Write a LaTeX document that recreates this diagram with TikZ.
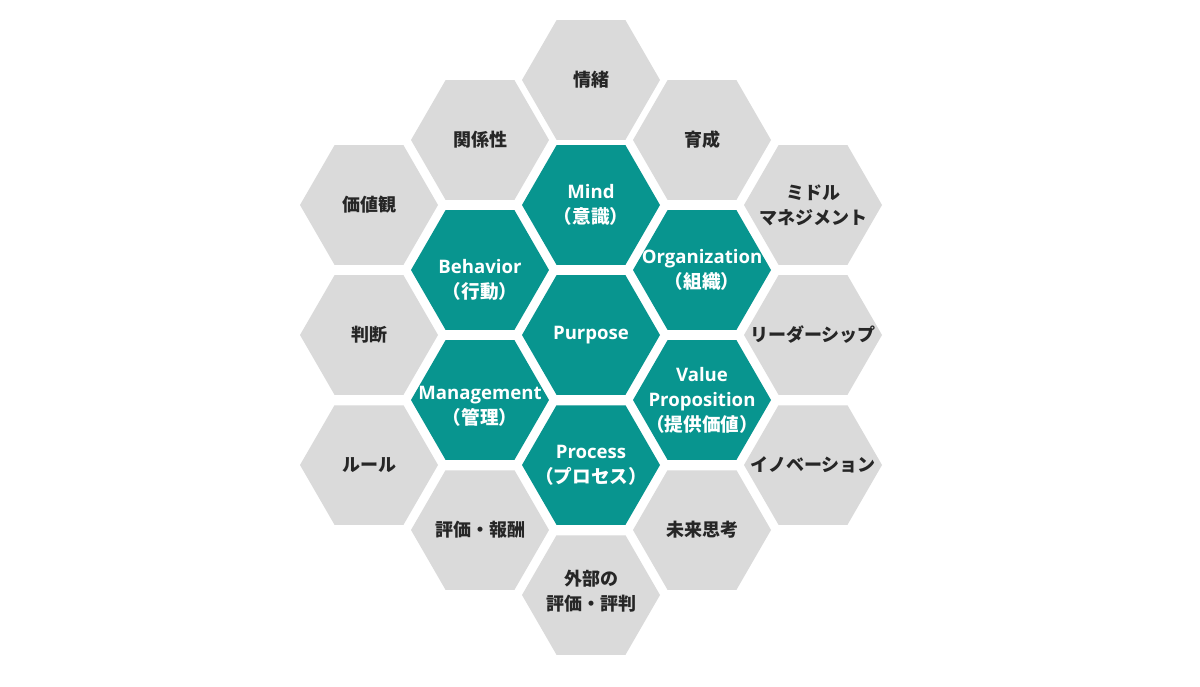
\documentclass[tikz,border=0pt]{standalone}
\usepackage{fontspec}
\setmainfont{Open Sans}
\newfontfamily\jp{Noto Sans CJK JP}
\usetikzlibrary{shapes.geometric}
\definecolor{hexteal}{HTML}{08958F}
\definecolor{hexgray}{HTML}{DADADA}
\definecolor{labelgray}{HTML}{262626}
\begin{document}
\begin{tikzpicture}[x=0.5pt,y=-0.5pt,
  cell/.style={regular polygon, regular polygon sides=6, minimum size=69pt, inner sep=0pt, outer sep=0pt},
  graycell/.style={cell, fill=hexgray},
  tealcell/.style={cell, fill=hexteal},
  graytext/.style={font=\jp\bfseries\fontsize{9}{12.5}\selectfont, text=labelgray, align=center},
  tealtext/.style={font=\bfseries\fontsize{9.3}{12.5}\selectfont, text=white, align=center}]
\fill[white] (0,0) rectangle (1200,686);
\useasboundingbox (0,0) rectangle (1200,686);

% outer ring
\node[graycell] (emotion) at (591,80) {};
\node[graycell] (relation) at (480,140) {};
\node[graycell] (growth) at (702,140) {};
\node[graycell] (values) at (369,205) {};
\node[graycell] (middle) at (813,205) {};
\node[graycell] (judge) at (369,335) {};
\node[graycell] (leader) at (813,335) {};
\node[graycell] (rules) at (369,465) {};
\node[graycell] (innov) at (813,465) {};
\node[graycell] (reward) at (480,530) {};
\node[graycell] (future) at (702,530) {};
\node[graycell] (external) at (591,595) {};

\node[graytext] (emotion-t) at (emotion) {情緒};
\node[graytext] (relation-t) at (relation) {関係性};
\node[graytext] (growth-t) at (growth) {育成};
\node[graytext] (values-t) at (values) {価値観};
\node[graytext] (middle-t) at (middle) {ミドル\\マネジメント};
\node[graytext] (judge-t) at (judge) {判断};
\node[graytext] (leader-t) at (leader) {リーダーシップ};
\node[graytext] (rules-t) at (rules) {ルール};
\node[graytext] (innov-t) at (innov) {イノベーション};
\node[graytext] (reward-t) at (reward) {評価・報酬};
\node[graytext] (future-t) at (future) {未来思考};
\node[graytext] (external-t) at ([yshift=2pt]external) {外部の\\評価・評判};

% inner ring
\node[tealcell] (mind) at (591,205) {};
\node[tealcell] (behavior) at (480,270) {};
\node[tealcell] (organization) at (702,270) {};
\node[tealcell] (purpose) at (591,335) {};
\node[tealcell] (management) at (480,400) {};
\node[tealcell] (value) at (702,400) {};
\node[tealcell] (process) at (591,465) {};

\node[tealtext] (mind-t) at (mind) {Mind\\{\jp（意識）}};
\node[tealtext] (behavior-t) at ([yshift=-5pt]behavior) {Behavior\\{\jp（行動）}};
\node[tealtext] (organization-t) at (organization) {Organization\\{\jp（組織）}};
\node[tealtext] (purpose-t) at (purpose) {Purpose};
\node[tealtext] (management-t) at ([yshift=-3pt]management) {Management\\{\jp（管理）}};
\node[tealtext] (value-t) at (value) {Value\\Proposition\\{\jp（提供価値）}};
\node[tealtext] (process-t) at (process) {Process\\{\jp（プロセス）}};
\end{tikzpicture}
\end{document}
